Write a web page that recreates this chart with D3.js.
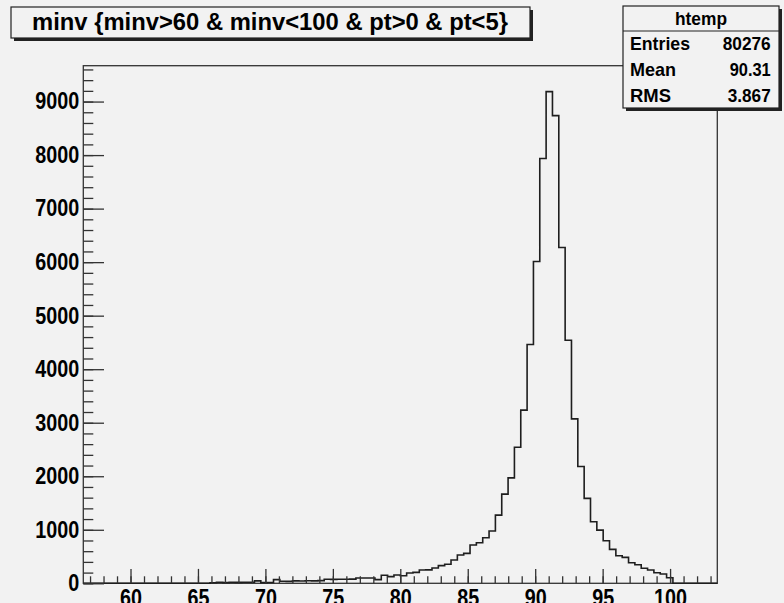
<!DOCTYPE html>
<html>
<head>
<meta charset="utf-8">
<script src="https://cdn.jsdelivr.net/npm/d3@7/dist/d3.min.js"></script>
<style>
    body { margin: 0; background: #f2f2f2; }
    svg { display: block; font-family: "Liberation Sans", Arial, sans-serif; font-weight: bold; }
</style>
</head>
<body>
<div id="chart"></div>
<script>
// histogram htemp: 100 equal bins between binRange[0] and binRange[1]
const binRange = [56.5, 103.5];
const binCounts = [
    0, 0, 0, 0, 0, 0, 0, 0, 0, 0,
    0, 0, 0, 0, 0, 0, 0, 0, 0, 0,
    10, 20, 12, 20, 18, 20, 20, 45, 12, 14,
    68, 38, 36, 45, 44, 48, 46, 50, 75, 74,
    76, 75, 78, 100, 100, 98, 68, 150, 125, 155,
    142, 192, 205, 248, 250, 286, 330, 355, 435, 528,
    560, 715, 758, 851, 976, 1274, 1666, 1970, 2543, 3235,
    4460, 6013, 7937, 9185, 8737, 6274, 4540, 3071, 2183, 1586,
    1150, 994, 795, 634, 515, 485, 384, 347, 280, 248,
    198, 174, 104, 0, 0, 0, 0, 0, 0, 0
];
const yAxisMax = 9670;

const xMajorTicks = [60, 65, 70, 75, 80, 85, 90, 95, 100];
const xMinorTicks = d3.range(57, 104);
const yMajorTicks = [0, 1000, 2000, 3000, 4000, 5000, 6000, 7000, 8000, 9000];
const yMinorTicks = d3.range(0, 9601, 200);

const titleText = "minv {minv>60 & minv<100 & pt>0 & pt<5}";
const statName = "htemp";
const statLabels = ["Entries", "Mean", "RMS"];
const statValues = ["80276", "90.31", "3.867"];

let width = 784, height = 603;
let frame = {left: 83.3, right: 717.3, top: 65.7, bottom: 583.3};
let ink = "#1e1e1e";

let svg = d3.select("#chart").append("svg")
    .attr("width", width)
    .attr("height", height);

svg.append("rect")
    .attr("width", width)
    .attr("height", height)
    .attr("fill", "#f2f2f2");

// scales
let x = d3.scaleLinear().domain(binRange).range([frame.left, frame.right]);
let y = d3.scaleLinear().domain([0, yAxisMax]).range([frame.bottom, frame.top]);

let binWidth = (binRange[1] - binRange[0]) / binCounts.length;
let bins = binCounts.map((c, i) => ({x0: binRange[0] + i * binWidth, x1: binRange[0] + (i + 1) * binWidth, count: c}));

// frame
svg.append("rect")
    .attr("x", frame.left)
    .attr("y", frame.top)
    .attr("width", frame.right - frame.left)
    .attr("height", frame.bottom - frame.top)
    .attr("fill", "none")
    .attr("stroke", "#333")
    .attr("stroke-width", 1.3);

// histogram outline
let stepLine = d3.line()
    .x(d => x(d[0]))
    .y(d => y(d[1]));
let pts = [];
bins.forEach(b => {
    pts.push([b.x0, b.count]);
    pts.push([b.x1, b.count]);
});
svg.append("path")
    .attr("d", stepLine(pts))
    .attr("fill", "none")
    .attr("stroke", ink)
    .attr("stroke-width", 1.6);

// x axis
let xMinor = svg.append("g")
    .attr("transform", "translate(0," + frame.bottom + ")")
    .call(d3.axisBottom(x).tickValues(xMinorTicks).tickSize(-7).tickFormat(""));
let xMajor = svg.append("g")
    .attr("transform", "translate(0," + frame.bottom + ")")
    .call(d3.axisBottom(x).tickValues(xMajorTicks).tickSize(-14.4).tickPadding(6));

// y axis
let yMinor = svg.append("g")
    .attr("transform", "translate(" + frame.left + ",0)")
    .call(d3.axisLeft(y).tickValues(yMinorTicks).tickSize(-10).tickFormat(""));
let yMajor = svg.append("g")
    .attr("transform", "translate(" + frame.left + ",0)")
    .call(d3.axisLeft(y).tickValues(yMajorTicks).tickSize(-20.7).tickPadding(4).tickFormat(d3.format("d")));

[xMinor, xMajor, yMinor, yMajor].forEach(g => {
    g.select(".domain").remove();
    g.selectAll("line").attr("stroke", "#333").attr("stroke-width", 1.3);
    g.selectAll("text")
        .attr("fill", "#000")
        .attr("font-family", "Liberation Sans, Arial, sans-serif")
        .attr("font-weight", "bold")
        .attr("font-size", 23)
        .attr("textLength", function () { return 11 * this.textContent.length; })
        .attr("lengthAdjust", "spacingAndGlyphs");
});

// title box
let title = svg.append("g");
title.append("rect")
    .attr("x", 14).attr("y", 10)
    .attr("width", 519).attr("height", 31)
    .attr("fill", "#222");
title.append("rect")
    .attr("x", 11).attr("y", 7)
    .attr("width", 519).attr("height", 31)
    .attr("fill", "#f2f2f2")
    .attr("stroke", "#222")
    .attr("stroke-width", 1.2);
title.append("text")
    .attr("x", 32)
    .attr("y", 30)
    .attr("font-size", 23)
    .attr("textLength", 476)
    .attr("lengthAdjust", "spacingAndGlyphs")
    .text(titleText);

// stats box
let stat = {left: 623, right: 779, top: 6, bottom: 108, header: 31};
let stats = svg.append("g");
stats.append("rect")
    .attr("x", stat.left + 3).attr("y", stat.top + 3)
    .attr("width", stat.right - stat.left).attr("height", stat.bottom - stat.top)
    .attr("fill", "#222");
stats.append("rect")
    .attr("x", stat.left).attr("y", stat.top)
    .attr("width", stat.right - stat.left).attr("height", stat.bottom - stat.top)
    .attr("fill", "#f2f2f2")
    .attr("stroke", "#222")
    .attr("stroke-width", 1.2);
stats.append("line")
    .attr("x1", stat.left).attr("x2", stat.right)
    .attr("y1", stat.header).attr("y2", stat.header)
    .attr("stroke", "#222")
    .attr("stroke-width", 1.2);
stats.append("text")
    .attr("x", (stat.left + stat.right) / 2)
    .attr("y", 25)
    .attr("text-anchor", "middle")
    .attr("font-size", 18)
    .attr("textLength", 52)
    .attr("lengthAdjust", "spacingAndGlyphs")
    .text(statName);

let labelWidths = {"Entries": 60, "Mean": 46, "RMS": 41};
let valueWidths = {"80276": 48, "90.31": 41, "3.867": 43};
statLabels.forEach((lab, i) => {
    let base = 50 + i * 26;
    stats.append("text")
        .attr("x", 630)
        .attr("y", base)
        .attr("font-size", 18.5)
        .attr("textLength", labelWidths[lab])
        .attr("lengthAdjust", "spacingAndGlyphs")
        .text(lab);
    stats.append("text")
        .attr("x", 770.7)
        .attr("y", base)
        .attr("text-anchor", "end")
        .attr("font-size", 18.5)
        .attr("textLength", valueWidths[statValues[i]])
        .attr("lengthAdjust", "spacingAndGlyphs")
        .text(statValues[i]);
});
</script>
</body>
</html>
